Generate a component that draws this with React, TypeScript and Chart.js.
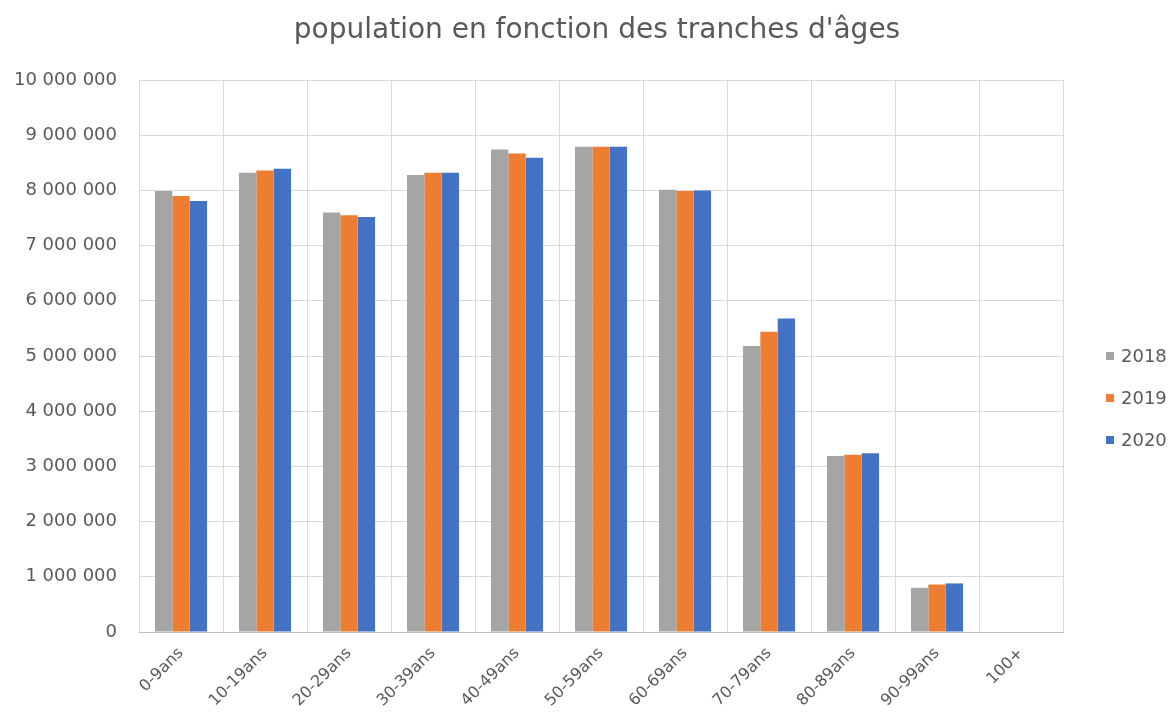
import React, { useEffect, useRef } from "react";
import { Chart, registerables } from "chart.js";

Chart.register(...registerables);

const categories = ["0-9ans", "10-19ans", "20-29ans", "30-39ans", "40-49ans", "50-59ans", "60-69ans", "70-79ans", "80-89ans", "90-99ans", "100+"];
const seriesLabels = ["2018", "2019", "2020"];
const values2018 = [7990000, 8320000, 7600000, 8280000, 8740000, 8790000, 8010000, 5180000, 3190000, 800000, 0];
const values2019 = [7900000, 8360000, 7550000, 8320000, 8670000, 8790000, 7990000, 5440000, 3210000, 860000, 0];
const values2020 = [7810000, 8390000, 7520000, 8320000, 8590000, 8790000, 8000000, 5680000, 3240000, 880000, 0];
const yMin = 0;
const yMax = 10000000;
const yStep = 1000000;
const titleText = "population en fonction des tranches d'âges";

const fillColors = ["#a5a5a5", "#ed7d31", "#4472c4"];
const textColor = "#595959";
const gridColor = "#d9d9d9";
const FONT = "'DejaVu Sans', sans-serif";

const fmt = (v: number) => String(v).replace(/\B(?=(\d{3})+(?!\d))/g, " ");

const titlePlugin = {
  id: "customTitle",
  afterDraw(chart: any) {
    const ctx = chart.ctx;
    ctx.save();
    ctx.fillStyle = textColor;
    ctx.font = `28px ${FONT}`;
    ctx.textAlign = "center";
    ctx.textBaseline = "middle";
    ctx.fillText(titleText, 597, 31);
    ctx.restore();
  },
};

const legendPlugin = {
  id: "customLegend",
  afterDraw(chart: any) {
    const ctx = chart.ctx;
    ctx.save();
    ctx.font = `18px ${FONT}`;
    ctx.textBaseline = "middle";
    ctx.textAlign = "left";
    chart.data.datasets.forEach((ds: any, i: number) => {
      const cy = 356 + i * 42;
      ctx.fillStyle = ds.backgroundColor;
      ctx.fillRect(1106, cy - 4, 8, 8);
      ctx.fillStyle = textColor;
      ctx.fillText(ds.label, 1121, cy + 1);
    });
    ctx.restore();
  },
};

export default function App() {
  const ref = useRef<HTMLCanvasElement>(null);
  useEffect(() => {
    if (!ref.current) return;
    const seriesValues = [values2018, values2019, values2020];
    const chart = new Chart(ref.current, {
      type: "bar",
      data: {
        labels: categories,
        datasets: seriesLabels.map((label, i) => ({
          label,
          data: seriesValues[i],
          backgroundColor: fillColors[i],
          borderWidth: 0,
          categoryPercentage: 0.62,
          barPercentage: 1.0,
        })),
      },
      options: {
        animation: false,
        responsive: true,
        maintainAspectRatio: false,
        layout: { padding: { top: 80, right: 111, left: 0, bottom: 0 } },
        plugins: {
          legend: { display: false },
          title: { display: false },
          tooltip: { enabled: false },
        },
        scales: {
          x: {
            offset: true,
            grid: { color: gridColor, lineWidth: 1, drawTicks: false, offset: true },
            border: { display: true, color: "#bfbfbf", width: 1 },
            ticks: {
              color: textColor,
              font: { family: FONT, size: 16 },
              minRotation: 45,
              maxRotation: 45,
              padding: 12,
              autoSkip: false,
            },
            afterFit(scale: any) {
              scale.height = 88;
            },
          },
          y: {
            min: yMin,
            max: yMax,
            grid: { color: gridColor, lineWidth: 1, drawTicks: false },
            border: { display: false },
            ticks: {
              stepSize: yStep,
              color: textColor,
              font: { family: FONT, size: 18 },
              padding: 22,
              callback: (v: any) => fmt(Number(v)),
            },
            afterFit(scale: any) {
              scale.width = 139;
            },
          },
        },
      },
      plugins: [titlePlugin, legendPlugin],
    });
    return () => chart.destroy();
  }, []);
  return (
    <div style={{ position: "fixed", left: 0, top: 0, width: 1174, height: 720, background: "#ffffff" }}>
      <canvas ref={ref} />
    </div>
  );
}
